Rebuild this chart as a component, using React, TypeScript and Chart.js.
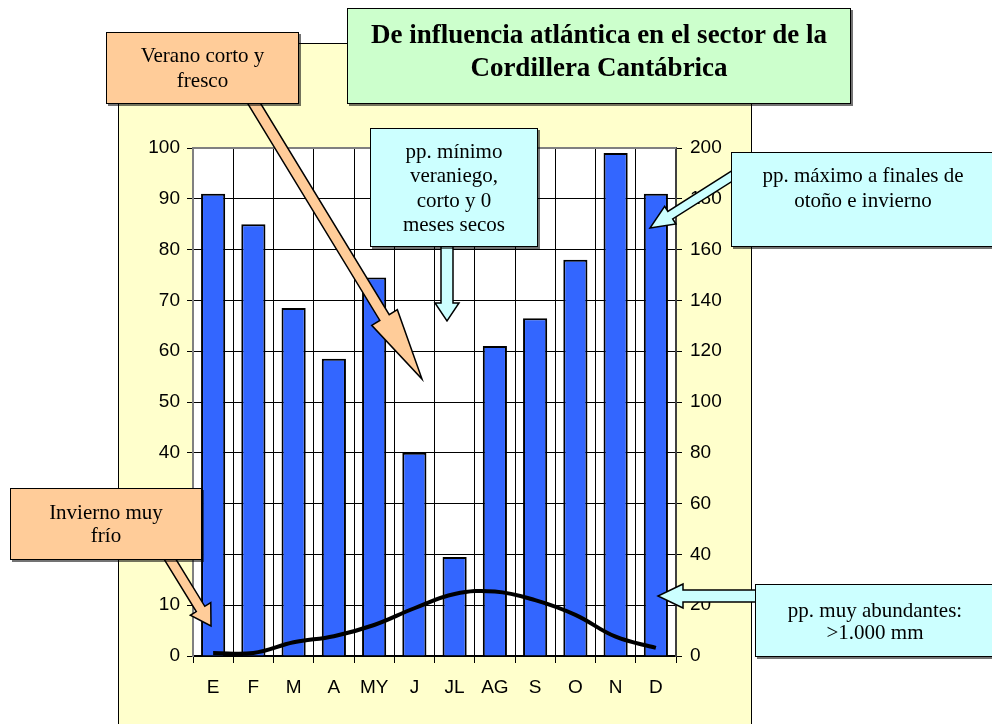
import React, { useEffect, useRef } from "react";
import { Chart, registerables } from "chart.js";

Chart.register(...registerables);

// ---- data ----
const months = ["E", "F", "M", "A", "MY", "J", "JL", "AG", "S", "O", "N", "D"];
const precipitationMm = [182, 170, 137, 117, 149, 80, 39, 122, 133, 156, 198, 182];
const temperatureC = [0.6, 0.6, 2.7, 3.9, 6.1, 9.4, 12.2, 12.7, 11, 8.1, 3.8, 1.6];
const leftAxis = { min: 0, max: 100, step: 10 };
const rightAxis = { min: 0, max: 200, step: 20 };

const titleLines = ["De influencia atlántica en el sector de la", "Cordillera Cantábrica"];
const noteSummer = ["Verano corto y", "fresco"];
const noteMinimum = ["pp. mínimo", "veraniego,", "corto y 0", "meses secos"];
const noteMaximum = ["pp. máximo a finales de", "otoño e invierno"];
const noteWinter = ["Invierno muy", "frío"];
const noteAbundant = ["pp. muy abundantes:", ">1.000 mm"];

const ORANGE = "#FFCC99";
const CYAN = "#CCFFFF";
const GREEN = "#CCFFCC";

type Arrow = { x1: number; y1: number; x2: number; y2: number; shaft: number; headW: number; headL: number; fill: string };
const arrows: Arrow[] = [
  { x1: 252, y1: 100, x2: 422, y2: 379, shaft: 11, headW: 30, headL: 72, fill: ORANGE },
  { x1: 447, y1: 240, x2: 447, y2: 321, shaft: 12, headW: 24, headL: 18, fill: CYAN },
  { x1: 740, y1: 171, x2: 650, y2: 228, shaft: 9, headW: 21, headL: 24, fill: CYAN },
  { x1: 168, y1: 556, x2: 211, y2: 626, shaft: 10, headW: 24, headL: 20, fill: ORANGE },
  { x1: 760, y1: 596, x2: 658, y2: 596, shaft: 12, headW: 24, headL: 25, fill: CYAN },
];

function drawArrow(ctx: CanvasRenderingContext2D, a: Arrow) {
  const dx = a.x2 - a.x1, dy = a.y2 - a.y1;
  const len = Math.hypot(dx, dy);
  const ux = dx / len, uy = dy / len;
  const px = -uy, py = ux;
  const bx = a.x2 - ux * a.headL, by = a.y2 - uy * a.headL;
  const s = a.shaft / 2, h = a.headW / 2;
  const pts: [number, number][] = [
    [a.x1 + px * s, a.y1 + py * s],
    [bx + px * s, by + py * s],
    [bx + px * h, by + py * h],
    [a.x2, a.y2],
    [bx - px * h, by - py * h],
    [bx - px * s, by - py * s],
    [a.x1 - px * s, a.y1 - py * s],
  ];
  ctx.beginPath();
  pts.forEach(([x, y], i) => (i ? ctx.lineTo(x, y) : ctx.moveTo(x, y)));
  ctx.closePath();
  ctx.fillStyle = a.fill;
  ctx.fill();
  ctx.strokeStyle = "#000";
  ctx.lineWidth = 1.5;
  ctx.lineJoin = "miter";
  ctx.stroke();
}

const decorPlugin = {
  id: "decor",
  beforeDraw(chart: any) {
    const { ctx, width, height, chartArea: a } = chart;
    ctx.save();
    ctx.fillStyle = "#fff";
    ctx.fillRect(0, 0, width, height);
    ctx.fillStyle = "#FFFFCC";
    ctx.fillRect(118, 43, 634, 720);
    ctx.strokeStyle = "#000";
    ctx.lineWidth = 1;
    ctx.strokeRect(118.5, 43.5, 633, 720);
    ctx.fillStyle = "#fff";
    ctx.fillRect(a.left, a.top, a.right - a.left, a.bottom - a.top);
    ctx.restore();
  },
  afterDraw(chart: any) {
    const { ctx, chartArea: a } = chart;
    ctx.save();
    ctx.strokeStyle = "#808080";
    ctx.lineWidth = 2;
    ctx.beginPath();
    ctx.moveTo(a.left, a.bottom);
    ctx.lineTo(a.left, a.top);
    ctx.lineTo(a.right, a.top);
    ctx.stroke();
    arrows.forEach((ar) => drawArrow(ctx, ar));
    ctx.restore();
  },
};

const serif = '"Liberation Serif", "Times New Roman", serif';
const sans = '"Liberation Sans", Arial, sans-serif';

function Box(props: { left: number; top: number; width: number; height: number; bg: string; lines: string[]; size: number; lh: number; bold?: boolean; padTop?: number }) {
  const { left, top, width, height, bg, lines, size, lh, bold, padTop } = props;
  return (
    <div
      style={{
        position: "absolute",
        left,
        top,
        width,
        height,
        boxSizing: "border-box",
        background: bg,
        border: "1px solid #000",
        boxShadow: "2px 2px 0 rgba(0,0,0,0.55)",
        display: "flex",
        flexDirection: "column",
        justifyContent: padTop !== undefined ? "flex-start" : "center",
        alignItems: "center",
        paddingTop: padTop ?? 0,
        fontFamily: serif,
        fontSize: size,
        lineHeight: lh + "px",
        fontWeight: bold ? 700 : 400,
        color: "#000",
        textAlign: "center",
        whiteSpace: "nowrap",
      }}
    >
      {lines.map((l, i) => (
        <div key={i}>{l}</div>
      ))}
    </div>
  );
}

export default function App() {
  const ref = useRef<HTMLCanvasElement | null>(null);
  useEffect(() => {
    if (!ref.current) return;
    const chart = new Chart(ref.current, {
      type: "bar",
      data: {
        labels: months,
        datasets: [
          {
            type: "line",
            data: temperatureC,
            yAxisID: "yL",
            borderColor: "#000",
            borderWidth: 4,
            tension: 0.4,
            pointRadius: 0,
            fill: false,
            order: 0,
          } as any,
          {
            type: "bar",
            data: precipitationMm,
            yAxisID: "yR",
            backgroundColor: "#3366FF",
            borderColor: "#000",
            borderWidth: 2,
            barPercentage: 0.6,
            categoryPercentage: 1,
            order: 1,
          } as any,
        ],
      },
      options: {
        responsive: false,
        animation: false,
        devicePixelRatio: 1,
        layout: { padding: { left: 118, right: 236, top: 148, bottom: 18 } },
        plugins: { legend: { display: false }, tooltip: { enabled: false } },
        scales: {
          x: {
            grid: { offset: true, color: "#000", lineWidth: 1, tickLength: 7, tickColor: "#000" },
            border: { color: "#000", width: 2 },
            ticks: { color: "#000", font: { family: sans, size: 19 }, padding: 13, maxRotation: 0 },
            afterFit: (s: any) => { s.height = 50; },
          },
          yL: {
            position: "left",
            min: leftAxis.min,
            max: leftAxis.max,
            grid: { color: "#000", lineWidth: 1, tickLength: 6, tickColor: "#000" },
            border: { color: "#808080", width: 2 },
            ticks: { stepSize: leftAxis.step, color: "#000", font: { family: sans, size: 19 }, padding: 7 },
            afterFit: (s: any) => { s.width = 75; },
          },
          yR: {
            position: "right",
            min: rightAxis.min,
            max: rightAxis.max,
            grid: { drawOnChartArea: false, tickLength: 6, tickColor: "#000", color: "#000" },
            border: { color: "#404040", width: 2 },
            ticks: { stepSize: rightAxis.step, color: "#000", font: { family: sans, size: 19 }, padding: 8 },
            afterFit: (s: any) => { s.width = 80; },
          },
        },
      },
      plugins: [decorPlugin],
    });
    return () => chart.destroy();
  }, []);

  return (
    <div style={{ position: "absolute", left: 0, top: 0, width: 992, height: 724, overflow: "hidden", background: "#fff" }}>
      <canvas ref={ref} width={992} height={724} style={{ display: "block", width: 992, height: 724 }} />
      <Box left={347} top={8} width={504} height={96} bg={GREEN} lines={titleLines} size={27} lh={33} bold padTop={9} />
      <Box left={106} top={32} width={193} height={72} bg={ORANGE} lines={noteSummer} size={21} lh={25} />
      <Box left={370} top={128} width={168} height={119} bg={CYAN} lines={noteMinimum} size={21} lh={24.5} />
      <Box left={731} top={152} width={264} height={95} bg={CYAN} lines={noteMaximum} size={21} lh={25} padTop={10} />
      <Box left={10} top={488} width={192} height={72} bg={ORANGE} lines={noteWinter} size={21} lh={23} />
      <Box left={755} top={584} width={240} height={73} bg={CYAN} lines={noteAbundant} size={21} lh={22} />
    </div>
  );
}
